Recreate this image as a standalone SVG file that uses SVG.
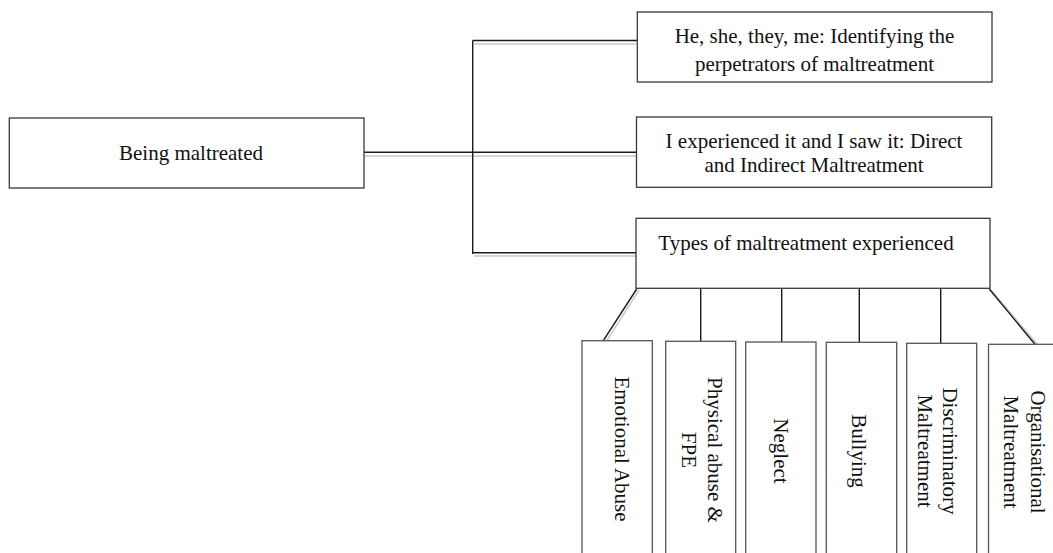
<svg xmlns="http://www.w3.org/2000/svg" width="1053" height="553" viewBox="0 0 1053 553">
  <style>
    .box { fill: #ffffff; stroke: #3a3a3a; stroke-width: 1.3; }
    .vbox { fill: #ffffff; stroke: #555555; stroke-width: 1.3; }
    .lbl { font-family: "Liberation Serif", "Times New Roman", serif; font-size: 21px; fill: #111111; text-anchor: middle; }
    .wire { fill: none; stroke: #1a1a1a; stroke-width: 1.4; }
    .shadow { fill: none; stroke: #c9c9c9; stroke-width: 1.4; }
  </style>
  <rect width="1053" height="553" fill="#ffffff"/>

  <!-- connectors -->
  <g id="connectors">
    <!-- light offset strokes under each link -->
    <path class="shadow" d="M364,156 H636 M474,44 H636 M474,256 H636"/>
    <path class="shadow" d="M639,290 L606,342 M991,290 L1038,345"/>
    <!-- trunk and branches -->
    <path class="wire" d="M364,152.3 H636"/>
    <path class="wire" d="M472.7,40.5 V254"/>
    <path class="wire" d="M472.7,40.5 H637"/>
    <path class="wire" d="M472.7,252.7 H636"/>
    <!-- links from the types box down to the categories -->
    <path class="wire" d="M636.7,289 L603.3,340.7"/>
    <path class="wire" d="M700.7,289 V341.3"/>
    <path class="wire" d="M781.7,289 V342"/>
    <path class="wire" d="M859.3,289 V342.3"/>
    <path class="wire" d="M940.7,289 V343.3"/>
    <path class="wire" d="M989.3,289 L1035,344.3"/>
  </g>

  <g id="root">
    <rect class="box" x="9.3" y="118" width="354.7" height="70"/>
    <text class="lbl" x="191" y="160">Being maltreated</text>
  </g>

  <g id="perpetrators">
    <rect class="box" x="637.3" y="12" width="354.7" height="70"/>
    <text class="lbl" x="814.5" y="43">He, she, they, me: Identifying the</text>
    <text class="lbl" x="814.5" y="71">perpetrators of maltreatment</text>
  </g>

  <g id="direct-indirect">
    <rect class="box" x="636.5" y="117" width="355.2" height="70.3"/>
    <text class="lbl" x="814" y="148">I experienced it and I saw it: Direct</text>
    <text class="lbl" x="814" y="172">and Indirect Maltreatment</text>
  </g>

  <g id="types">
    <rect class="box" x="636" y="218.3" width="354" height="70"/>
    <text class="lbl" x="806" y="250">Types of maltreatment experienced</text>
  </g>

  <g id="emotional">
    <rect class="vbox" x="582" y="340.7" width="70.3" height="230"/>
    <text class="lbl" transform="translate(615,449) rotate(90)">Emotional Abuse</text>
  </g>

  <g id="physical">
    <rect class="vbox" x="665.7" y="341.3" width="70" height="230"/>
    <text class="lbl" transform="translate(708,450) rotate(90)">Physical abuse &amp;</text>
    <text class="lbl" transform="translate(682,450) rotate(90)">FPE</text>
  </g>

  <g id="neglect">
    <rect class="vbox" x="745.7" y="342" width="70.3" height="230"/>
    <text class="lbl" transform="translate(774,451) rotate(90)">Neglect</text>
  </g>

  <g id="bullying">
    <rect class="vbox" x="826.3" y="342.3" width="70.4" height="230"/>
    <text class="lbl" transform="translate(852,451) rotate(90)">Bullying</text>
  </g>

  <g id="discriminatory">
    <rect class="vbox" x="906.7" y="343.3" width="70" height="230"/>
    <text class="lbl" transform="translate(943,451) rotate(90)">Discriminatory</text>
    <text class="lbl" transform="translate(918,451) rotate(90)">Maltreatment</text>
  </g>

  <g id="organisational">
    <rect class="vbox" x="988.5" y="344.3" width="70" height="230"/>
    <text class="lbl" transform="translate(1031,452) rotate(90)">Organisational</text>
    <text class="lbl" transform="translate(1004,452) rotate(90)">Maltreatment</text>
  </g>
</svg>
